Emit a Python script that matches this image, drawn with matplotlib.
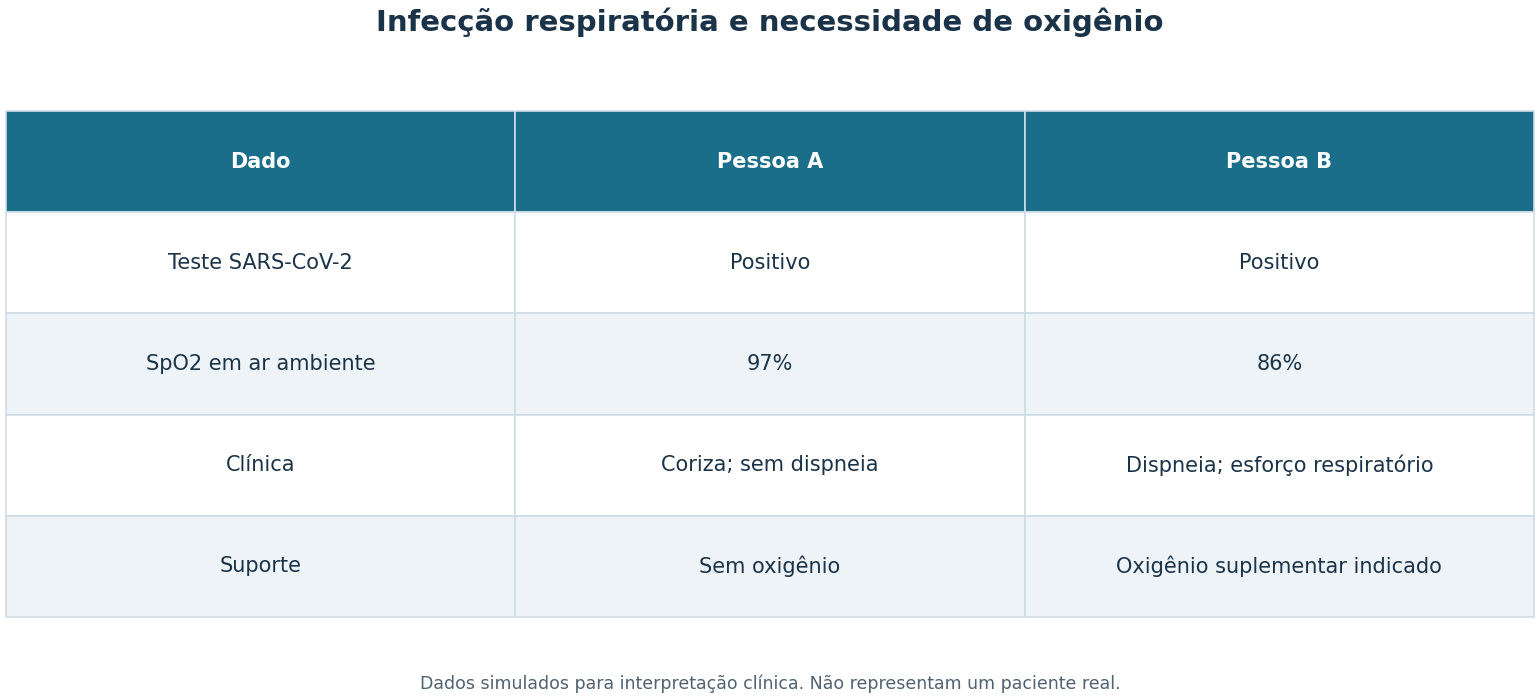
import matplotlib.pyplot as plt

title = "Infecção respiratória e necessidade de oxigênio"
footer = "Dados simulados para interpretação clínica. Não representam um paciente real."
columns = ["Dado", "Pessoa A", "Pessoa B"]
row_labels = ["Teste SARS-CoV-2", "SpO2 em ar ambiente", "Clínica", "Suporte"]
pessoa_a = ["Positivo", "97%", "Coriza; sem dispneia", "Sem oxigênio"]
pessoa_b = ["Positivo", "86%", "Dispneia; esforço respiratório", "Oxigênio suplementar indicado"]

header_color = "#1a6e8a"
alt_color = "#eef3f8"
edge_color = "#cfdde6"
text_color = "#1a3349"

fig = plt.figure(figsize=(15.4, 7), dpi=100)
ax = fig.add_axes([0, 0, 1, 1])
ax.axis("off")

cells = [[r, a, b] for r, a, b in zip(row_labels, pessoa_a, pessoa_b)]
# bbox in figure fraction: x 6..1534, y 111..617 of 700
tbl = ax.table(cellText=cells, colLabels=columns, cellLoc="center",
               bbox=[6 / 1540, 1 - 617 / 700, 1528 / 1540, 506 / 700])
tbl.auto_set_font_size(False)
for (r, c), cell in tbl.get_celld().items():
    cell.set_edgecolor(edge_color)
    cell.set_linewidth(1.2)
    if r == 0:
        cell.set_facecolor(header_color)
        cell.get_text().set_color("white")
        cell.get_text().set_fontweight("bold")
        cell.get_text().set_fontsize(15)
    else:
        cell.set_facecolor(alt_color if r % 2 == 0 else "white")
        cell.get_text().set_color(text_color)
        cell.get_text().set_fontsize(15)

fig.text(0.5, 1 - 22 / 700, title, ha="center", va="center",
         fontsize=21, fontweight="bold", color=text_color)
fig.text(0.5, 1 - 684 / 700, footer, ha="center", va="center",
         fontsize=12.5, color="#4f6272")

fig.savefig("out.png", dpi=100)
